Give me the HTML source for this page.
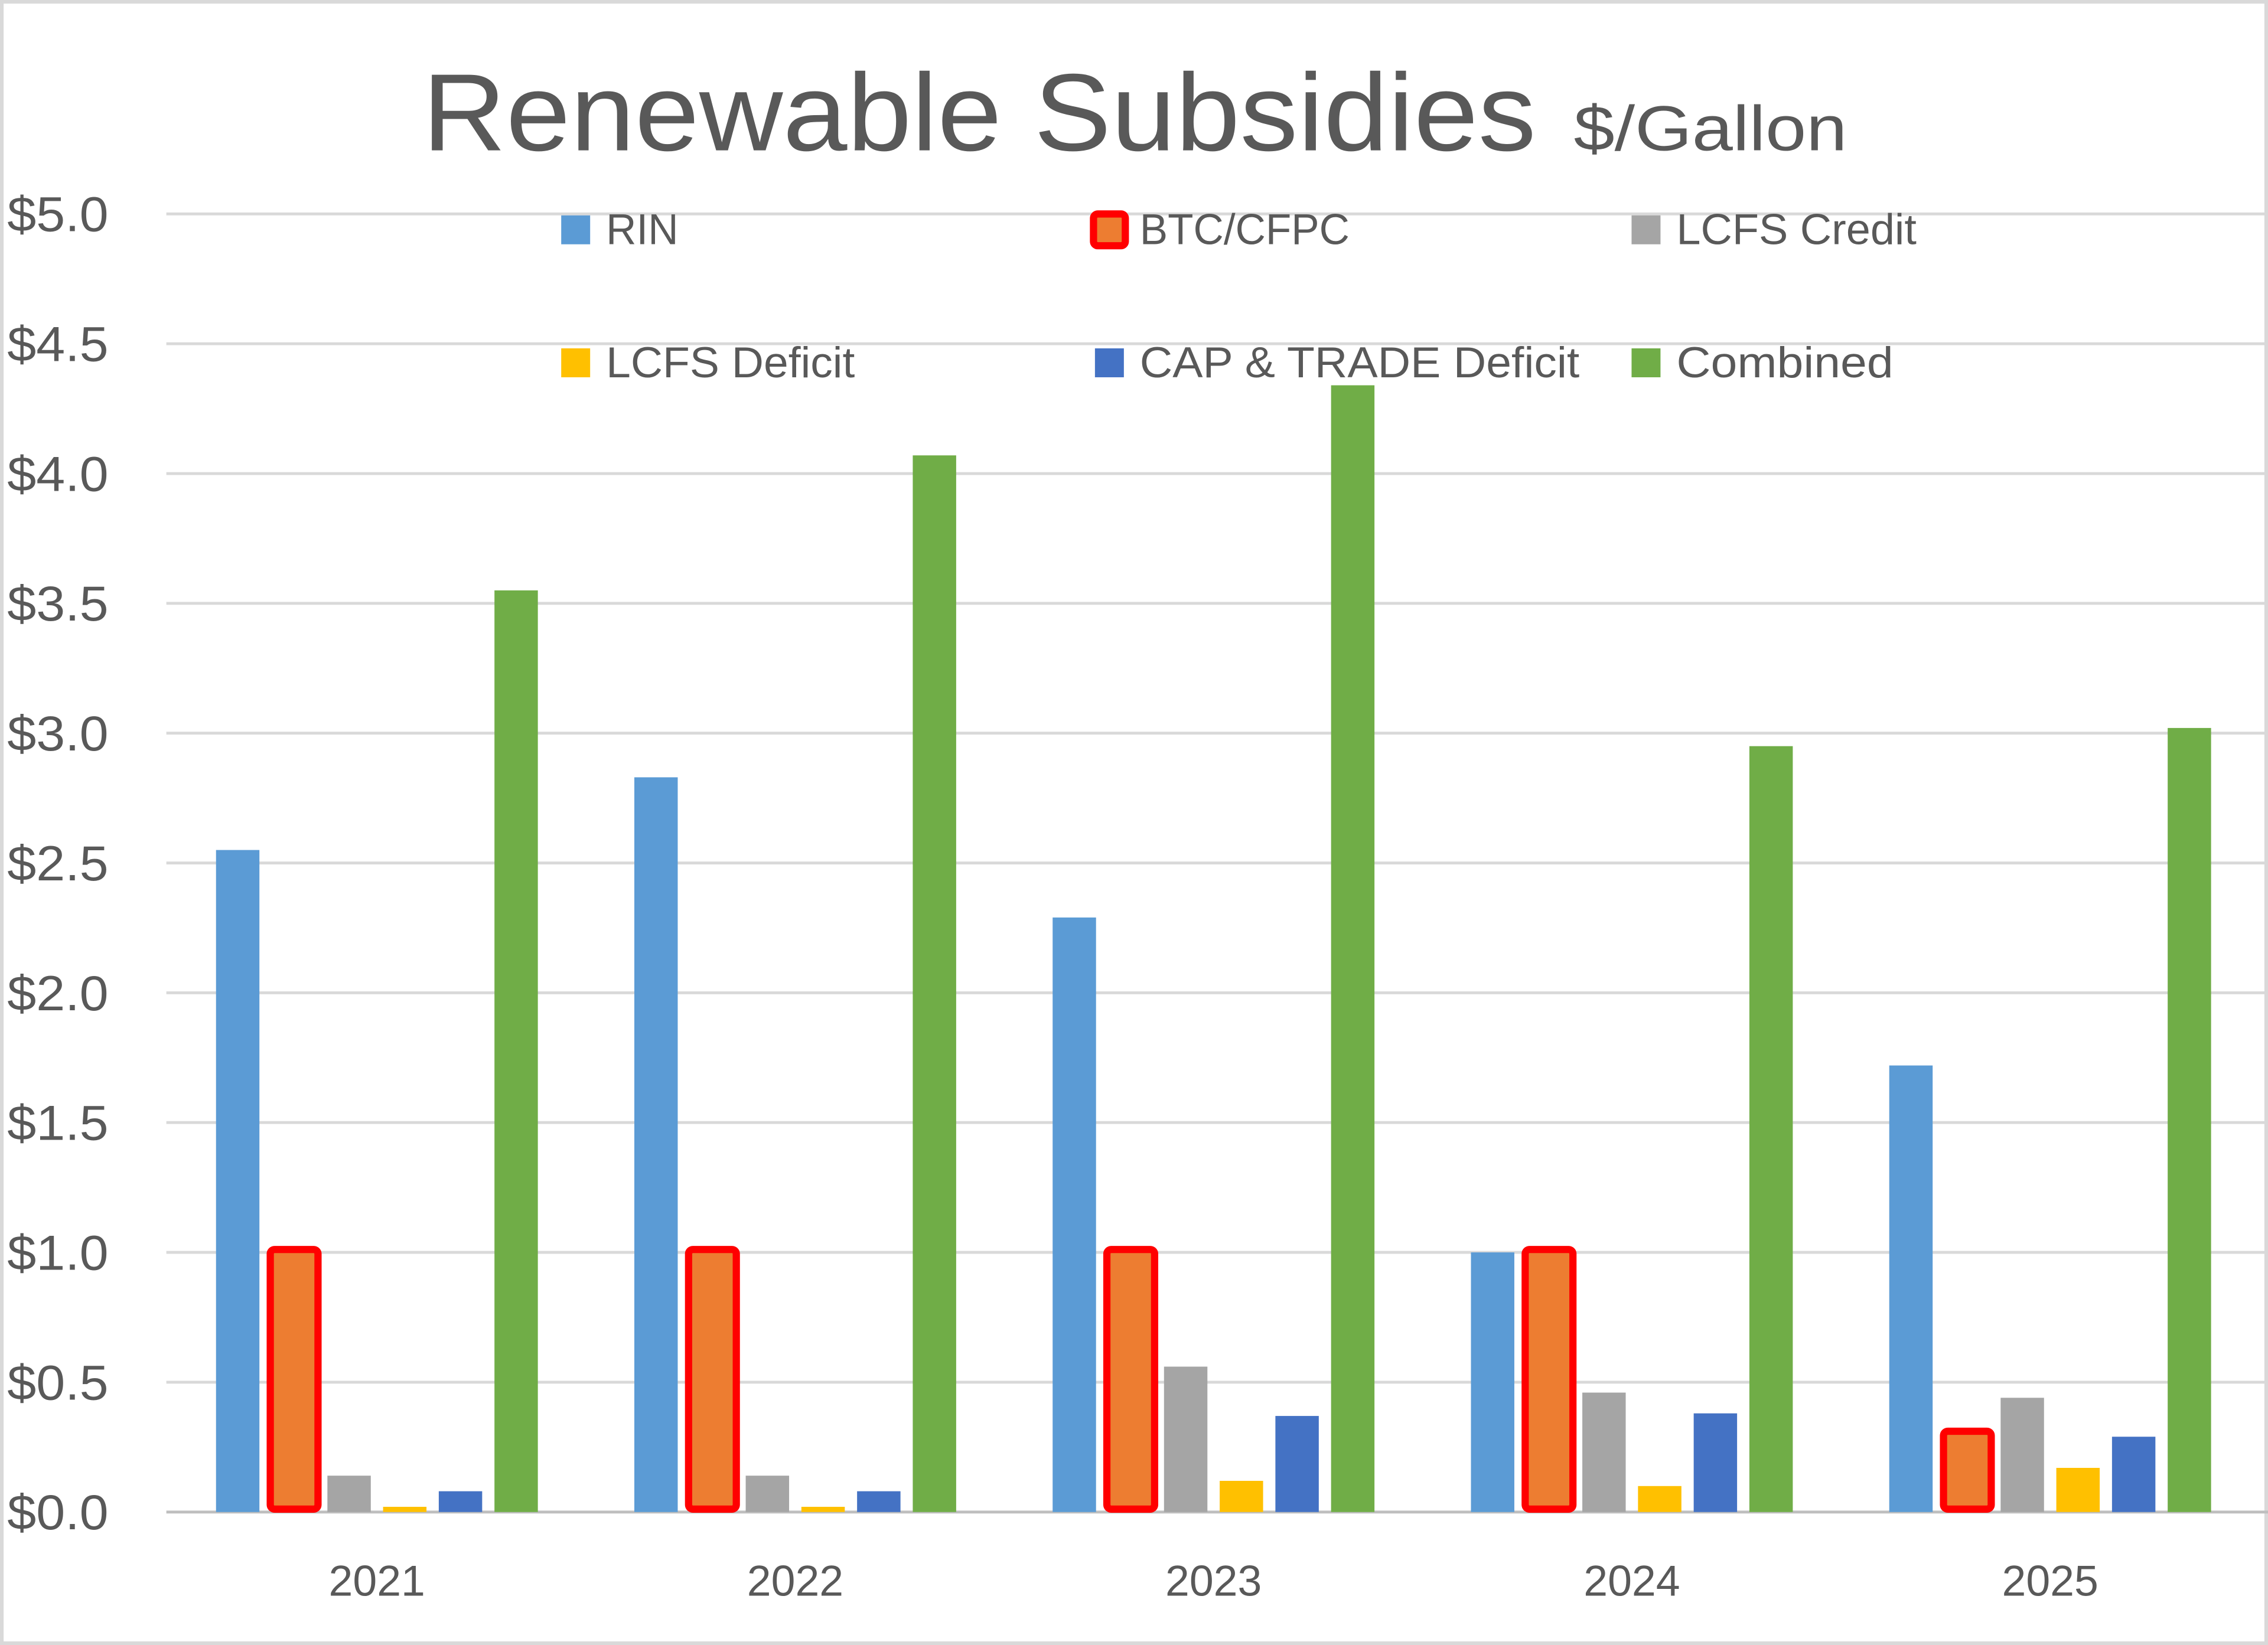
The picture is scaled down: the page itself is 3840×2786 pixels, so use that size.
<!DOCTYPE html>
<html><head><meta charset="utf-8"><style>
html,body{margin:0;padding:0;background:#fff}
svg{display:block;font-family:"Liberation Sans",sans-serif}
</style></head><body>
<svg id="chart" width="3840" height="2786" viewBox="0 0 1568 1138" preserveAspectRatio="none" xmlns="http://www.w3.org/2000/svg">
<rect x="1" y="1" width="1566" height="1136" fill="#fff" stroke="#d9d9d9" stroke-width="3"/>
<text x="292" y="104" font-size="76" fill="#595959" textLength="770" lengthAdjust="spacingAndGlyphs">Renewable Subsidies</text>
<text x="1088" y="104" font-size="44" fill="#595959" textLength="189" lengthAdjust="spacingAndGlyphs">$/Gallon</text>
<g id="grid"></g>
<g id="bars"></g>
<g id="labels"></g>
<g id="legend" font-size="30" fill="#595959"></g>
</svg>
<script>
const categories=["2021","2022","2023","2024","2025"];
const seriesNames=["RIN","BTC/CFPC","LCFS Credit","LCFS Deficit","CAP & TRADE Deficit","Combined"];
const rin=[2.55,2.83,2.29,1.0,1.72];
const btc=[1.0,1.0,1.0,1.0,0.30];
const lcfsCredit=[0.14,0.14,0.56,0.46,0.44];
const lcfsDeficit=[0.02,0.02,0.12,0.10,0.17];
const capTrade=[0.08,0.08,0.37,0.38,0.29];
const combined=[3.55,4.07,4.34,2.95,3.02];
const yTicks=[0,0.5,1,1.5,2,2.5,3,3.5,4,4.5,5];
const yTickLabels=["$0.0","$0.5","$1.0","$1.5","$2.0","$2.5","$3.0","$3.5","$4.0","$4.5","$5.0"];
const colors=["#5B9BD5","#ED7D31","#A5A5A5","#FFC000","#4472C4","#70AD47"];
const NS="http://www.w3.org/2000/svg";
const y0=1046,y5=148,xL=115,xR=1568;
const yScale=v=>y0-(v/5)*(y0-y5);
const bandStart=115,bandW=289.2;
const xCenter=i=>bandStart+bandW*(i+0.5);
const barStep=38.5,barW=30;
function mk(tag,attrs,parent){const e=document.createElementNS(NS,tag);for(const k in attrs)e.setAttribute(k,attrs[k]);parent.appendChild(e);return e;}
const grid=document.getElementById('grid'),bars=document.getElementById('bars'),labels=document.getElementById('labels'),legend=document.getElementById('legend');
yTicks.forEach((t,i)=>{
 const l=mk('line',{x1:xL,x2:xR,y1:yScale(t),y2:yScale(t),stroke:i===0?'#bfbfbf':'#d9d9d9','stroke-width':2},grid);
 
 
 const tx=mk('text',{x:5,y:yScale(t)+12,'font-size':34,fill:'#595959',textLength:70,lengthAdjust:'spacingAndGlyphs'},labels);
 tx.textContent=yTickLabels[i];
 
 
});
categories.forEach((c,i)=>{
 const tx=mk('text',{x:xCenter(i)+1,y:1104,'font-size':30,fill:'#595959','text-anchor':'middle'},labels);
 tx.textContent=c;
 
 
});
const series=[rin,btc,lcfsCredit,lcfsDeficit,capTrade,combined];
series.forEach((s,si)=>{
 s.forEach((v,i)=>{
  const cx=xCenter(i)+(si-2.5)*barStep+1;
  const top=yScale(v);
  let r;
  if(si===1){
   r=mk('rect',{x:cx-barW/2-1,y:top-2,width:barW+3,height:y0-top,fill:colors[1],stroke:'#FF0000','stroke-width':5,rx:3},bars);
  } else {
   r=mk('rect',{x:cx-barW/2,y:top,width:barW,height:y0-top,fill:colors[si]},bars);
  }
  
  
 });
});
const legX=[388,757,1128],legY=[158,250];
const legLen=[50,145,166,172,304,150];
seriesNames.forEach((n,i)=>{
 const x=legX[i%3],y=legY[Math.floor(i/3)];
 let m;
 if(i===1){m=mk('rect',{x:x-1,y:y-10,width:22,height:22,fill:colors[1],stroke:'#FF0000','stroke-width':5,rx:3},legend);}
 else{m=mk('rect',{x:x,y:y-9,width:20,height:20,fill:colors[i]},legend);}
 
 
 const t=mk('text',{x:x+31,y:y+11,textLength:legLen[i],lengthAdjust:'spacingAndGlyphs'},legend);
 t.textContent=n;
 
 
});
</script>
</body></html>
